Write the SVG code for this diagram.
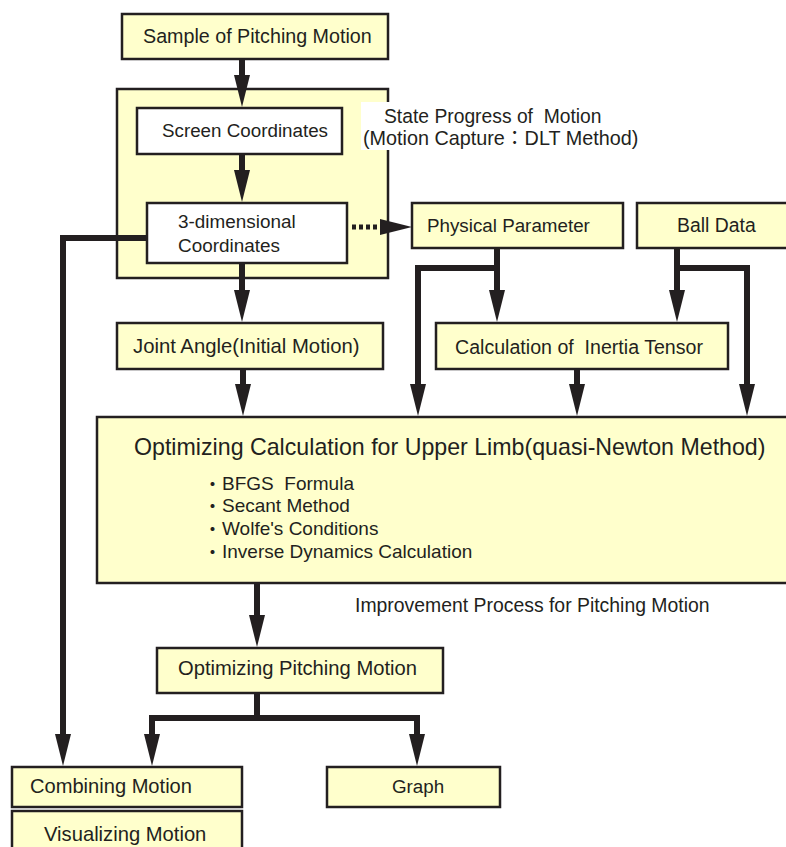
<svg xmlns="http://www.w3.org/2000/svg" width="786" height="847" viewBox="0 0 786 847">
<style>
  .box { fill: #FFFFCC; stroke: #231F20; stroke-width: 2.5; }
  .wbox { fill: #FFFFFF; stroke: #231F20; stroke-width: 2.5; }
  .t { font-family: "Liberation Sans", Arial, "Noto Sans CJK JP", sans-serif; fill: #231F20; white-space: pre; }
  .ln { fill: none; stroke: #231F20; stroke-width: 6; }
  .arr { fill: none; stroke: #231F20; stroke-width: 6; marker-end: url(#ah); }
  .dot { fill: none; stroke: #231F20; stroke-width: 5; stroke-dasharray: 4 3; marker-end: url(#ah); }
</style>
<defs>
  <marker id="ah" markerUnits="userSpaceOnUse" markerWidth="32" markerHeight="16" viewBox="0 0 32 16" refX="1" refY="8" orient="auto">
    <path d="M0,0 L32,8 L0,16 z" fill="#231F20"/>
  </marker>
</defs>
<rect width="786" height="847" fill="#FFFFFF"/>

<g id="motion-capture-group">
  <rect class="box" x="117" y="89" width="271" height="189"/>
</g>
<g id="label-state-progress">
  <rect x="361" y="102" width="285" height="48" fill="#FFFFFF"/>
  <text class="t" font-size="19.3" x="384" y="123">State Progress of  Motion</text>
  <text class="t" font-size="19.8" x="363" y="145">(Motion Capture：DLT Method)</text>
</g>

<g id="sample">
  <rect class="box" x="122" y="14" width="266" height="45"/>
  <text class="t" font-size="19.7" x="143" y="43">Sample of Pitching Motion</text>
</g>
<g id="screen-coordinates">
  <rect class="wbox" x="137" y="108" width="205" height="46"/>
  <text class="t" font-size="18.8" x="162" y="137">Screen Coordinates</text>
</g>
<g id="three-d-coordinates">
  <rect class="wbox" x="147" y="203" width="200" height="60"/>
  <text class="t" font-size="18.9" x="178" y="228">3-dimensional</text>
  <text class="t" font-size="18.9" x="178" y="252">Coordinates</text>
</g>
<g id="physical-parameter">
  <rect class="box" x="412" y="203" width="211" height="45"/>
  <text class="t" font-size="18.8" x="427" y="232">Physical Parameter</text>
</g>
<g id="ball-data">
  <rect class="box" x="637" y="203" width="160" height="45"/>
  <text class="t" font-size="19.4" x="677" y="232">Ball Data</text>
</g>
<g id="joint-angle">
  <rect class="box" x="117" y="323" width="266" height="46"/>
  <text class="t" font-size="20.3" x="133" y="353">Joint Angle(Initial Motion)</text>
</g>
<g id="inertia-tensor">
  <rect class="box" x="436" y="323" width="292" height="46"/>
  <text class="t" font-size="19.6" x="455" y="354">Calculation of  Inertia Tensor</text>
</g>
<g id="optimizing-calculation">
  <rect class="box" x="97" y="417" width="700" height="166"/>
  <text class="t" font-size="23.2" x="134" y="455">Optimizing Calculation for Upper Limb(quasi-Newton Method)</text>
  <text class="t" font-size="19"><tspan x="203" y="492">・</tspan><tspan x="222" y="490">BFGS  Formula</tspan></text>
  <text class="t" font-size="19"><tspan x="203" y="514">・</tspan><tspan x="222" y="512">Secant Method</tspan></text>
  <text class="t" font-size="19"><tspan x="203" y="537">・</tspan><tspan x="222" y="535">Wolfe's Conditions</tspan></text>
  <text class="t" font-size="19"><tspan x="203" y="560">・</tspan><tspan x="222" y="558">Inverse Dynamics Calculation</tspan></text>
</g>
<g id="label-improvement">
  <text class="t" font-size="19.4" x="355" y="612">Improvement Process for Pitching Motion</text>
</g>
<g id="optimizing-pitching-motion">
  <rect class="box" x="157" y="648" width="286" height="45"/>
  <text class="t" font-size="20.2" x="178" y="675">Optimizing Pitching Motion</text>
</g>
<g id="combining-motion">
  <rect class="box" x="12" y="767" width="230" height="40"/>
  <text class="t" font-size="20.1" x="30" y="793">Combining Motion</text>
</g>
<g id="graph">
  <rect class="box" x="327" y="767" width="173" height="40"/>
  <text class="t" font-size="18.8" x="392" y="793">Graph</text>
</g>
<g id="visualizing-motion">
  <rect class="box" x="12" y="811" width="230" height="45"/>
  <text class="t" font-size="20.2" x="44" y="841">Visualizing Motion</text>
</g>

<g id="connectors">
  <line class="arr" x1="242" y1="59" x2="242" y2="76"/>
  <line class="arr" x1="242" y1="154" x2="242" y2="171"/>
  <line class="arr" x1="242" y1="263" x2="242" y2="291"/>
  <line class="arr" x1="243" y1="369" x2="243" y2="385"/>
  <path class="arr" d="M148,238 H63 V735"/>
  <line class="dot" x1="352" y1="227" x2="381" y2="227"/>
  <line class="arr" x1="497" y1="248" x2="497" y2="291"/>
  <path class="arr" d="M497,268 H418 V385"/>
  <line class="arr" x1="677" y1="248" x2="677" y2="291"/>
  <path class="arr" d="M677,268 H747 V385"/>
  <line class="arr" x1="577" y1="369" x2="577" y2="385"/>
  <line class="arr" x1="257" y1="583" x2="257" y2="616"/>
  <path class="ln" d="M257,693 V718"/>
  <path class="arr" d="M257,718 H152 V735"/>
  <path class="arr" d="M257,718 H417 V735"/>
</g>
</svg>
